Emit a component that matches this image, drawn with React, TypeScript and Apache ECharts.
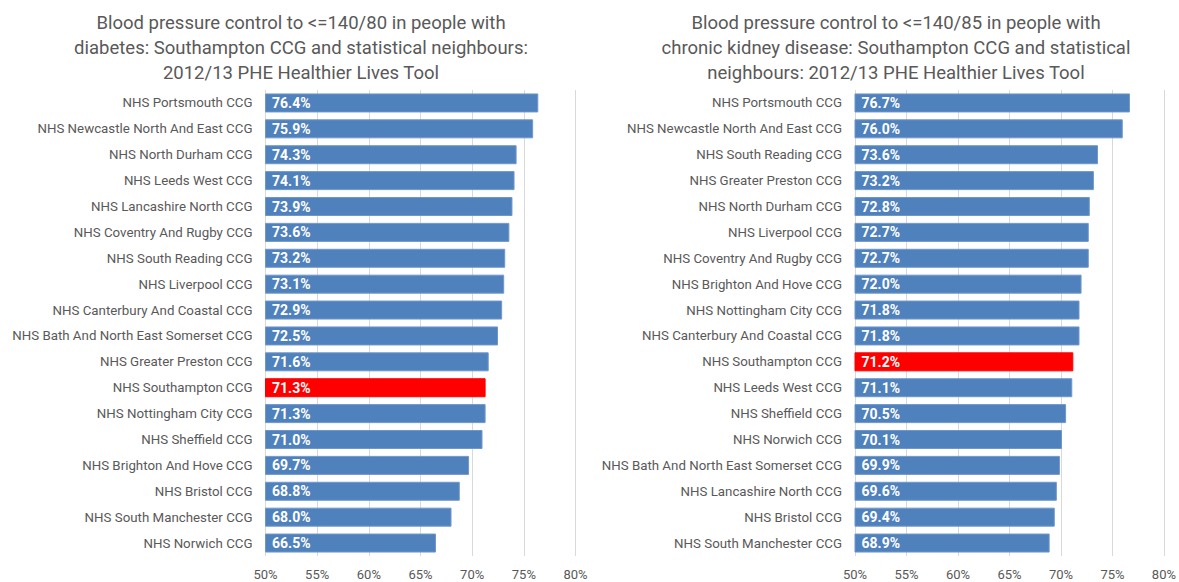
import React, { useEffect, useRef } from "react";
import * as echarts from "echarts";

const leftCategories = [
  "NHS Portsmouth CCG",
  "NHS Newcastle North And East CCG",
  "NHS North Durham CCG",
  "NHS Leeds West CCG",
  "NHS Lancashire North CCG",
  "NHS Coventry And Rugby CCG",
  "NHS South Reading CCG",
  "NHS Liverpool CCG",
  "NHS Canterbury And Coastal CCG",
  "NHS Bath And North East Somerset CCG",
  "NHS Greater Preston CCG",
  "NHS Southampton CCG",
  "NHS Nottingham City CCG",
  "NHS Sheffield CCG",
  "NHS Brighton And Hove CCG",
  "NHS Bristol CCG",
  "NHS South Manchester CCG",
  "NHS Norwich CCG",
];
const leftValues = [76.4, 75.9, 74.3, 74.1, 73.9, 73.6, 73.2, 73.1, 72.9, 72.5, 71.6, 71.3, 71.3, 71.0, 69.7, 68.8, 68.0, 66.5];

const rightCategories = [
  "NHS Portsmouth CCG",
  "NHS Newcastle North And East CCG",
  "NHS South Reading CCG",
  "NHS Greater Preston CCG",
  "NHS North Durham CCG",
  "NHS Liverpool CCG",
  "NHS Coventry And Rugby CCG",
  "NHS Brighton And Hove CCG",
  "NHS Nottingham City CCG",
  "NHS Canterbury And Coastal CCG",
  "NHS Southampton CCG",
  "NHS Leeds West CCG",
  "NHS Sheffield CCG",
  "NHS Norwich CCG",
  "NHS Bath And North East Somerset CCG",
  "NHS Lancashire North CCG",
  "NHS Bristol CCG",
  "NHS South Manchester CCG",
];
const rightValues = [76.7, 76.0, 73.6, 73.2, 72.8, 72.7, 72.7, 72.0, 71.8, 71.8, 71.2, 71.1, 70.5, 70.1, 69.9, 69.6, 69.4, 68.9];

const leftTitle = "Blood pressure control to <=140/80 in people with\ndiabetes: Southampton CCG and statistical neighbours:\n2012/13 PHE Healthier Lives Tool";
const rightTitle = "Blood pressure control to <=140/85 in people with\nchronic kidney disease: Southampton CCG and statistical\nneighbours: 2012/13 PHE Healthier Lives Tool";

const xTicks = { min: 50, max: 80, interval: 5 };
const HIGHLIGHT = "NHS Southampton CCG";

const FONT = "Roboto, 'Noto Sans', sans-serif";
const BLUE = "#4F81BD";
const RED = "#FF0000";
const GREY_TEXT = "#595959";

function buildData(cats: string[], vals: number[]) {
  return vals.map((v, i) => ({
    value: v,
    itemStyle: {
      color: cats[i] === HIGHLIGHT ? RED : BLUE,
      borderColor: cats[i] === HIGHLIGHT ? RED : "#6F97CB",
      borderWidth: 1,
    },
  }));
}

export default function App() {
  const ref = useRef<HTMLDivElement>(null);
  useEffect(() => {
    if (!ref.current) return;
    const chart = echarts.init(ref.current, null, { renderer: "svg" });
    const xAxisBase = (gridIndex: number) => ({
      type: "value" as const,
      gridIndex,
      min: xTicks.min,
      max: xTicks.max,
      interval: xTicks.interval,
      axisLine: { show: false },
      axisTick: { show: false },
      axisLabel: {
        formatter: "{value}%",
        color: GREY_TEXT,
        fontSize: 13,
        fontFamily: FONT,
        margin: 12,
      },
      splitLine: { show: true, lineStyle: { color: "#D9D9D9", width: 1 } },
    });
    const yAxisBase = (gridIndex: number, cats: string[]) => ({
      type: "category" as const,
      gridIndex,
      data: cats,
      inverse: true,
      axisLine: { show: false },
      axisTick: { show: false },
      axisLabel: {
        color: GREY_TEXT,
        fontSize: 13.3,
        fontFamily: FONT,
        margin: 13,
      },
      splitLine: { show: false },
    });
    const labelCfg = {
      show: true,
      position: "insideLeft" as const,
      distance: 7,
      color: "#FFFFFF",
      fontWeight: "bold" as const,
      fontSize: 14,
      fontFamily: FONT,
      formatter: (p: any) => Number(p.value).toFixed(1) + "%",
    };
    const titleStyle = { color: GREY_TEXT, fontSize: 18.5, fontWeight: "normal" as const, fontFamily: FONT, lineHeight: 25 };
    chart.setOption({
      animation: false,
      backgroundColor: "#FFFFFF",
      title: [
        { text: leftTitle, left: 296, top: 5, textAlign: "center", textStyle: titleStyle },
        { text: rightTitle, left: 891, top: 5, textAlign: "center", textStyle: titleStyle },
      ],
      grid: [
        { left: 265.5, top: 90, width: 310, height: 466, containLabel: false },
        { left: 855, top: 90, width: 309, height: 466, containLabel: false },
      ],
      xAxis: [xAxisBase(0), xAxisBase(1)],
      yAxis: [yAxisBase(0, leftCategories), yAxisBase(1, rightCategories)],
      series: [
        {
          type: "bar",
          xAxisIndex: 0,
          yAxisIndex: 0,
          data: buildData(leftCategories, leftValues),
          barWidth: 19,
          label: labelCfg,
        },
        {
          type: "bar",
          xAxisIndex: 1,
          yAxisIndex: 1,
          data: buildData(rightCategories, rightValues),
          barWidth: 19,
          label: labelCfg,
        },
      ],
    });
    return () => chart.dispose();
  }, []);
  return (
    <div
      ref={ref}
      style={{ position: "fixed", left: 0, top: 0, width: 1179, height: 582 }}
    />
  );
}
